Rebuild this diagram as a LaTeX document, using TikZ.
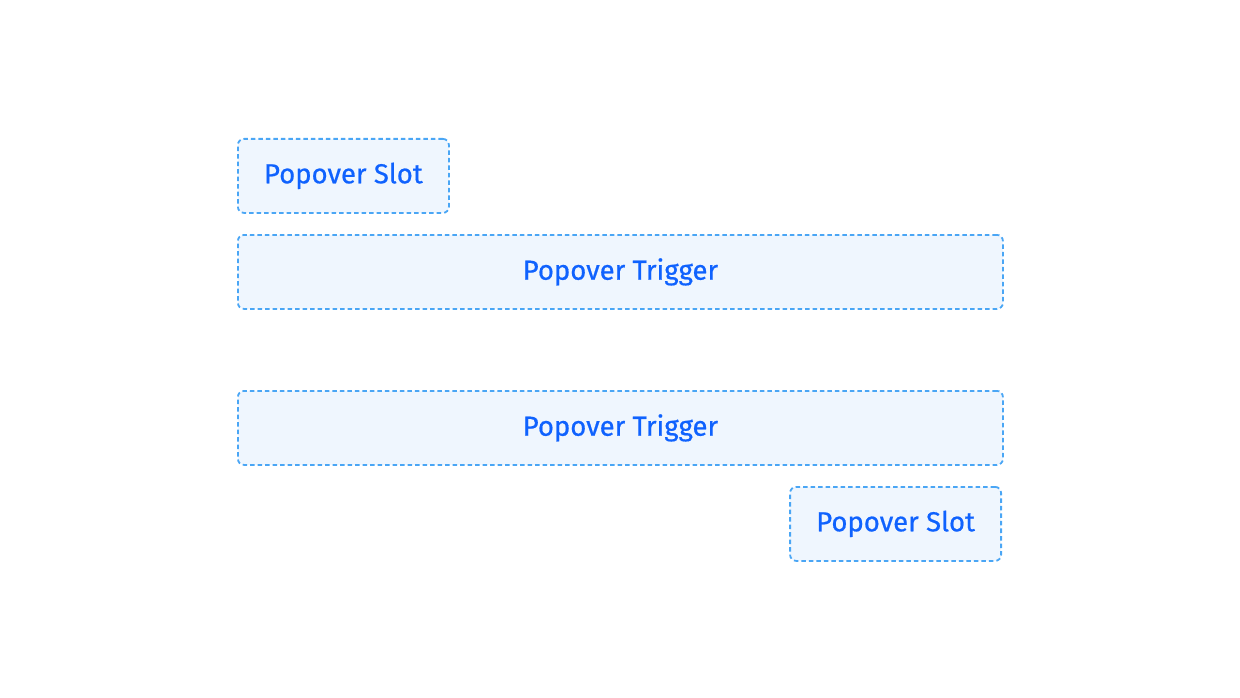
\documentclass[tikz,border=0pt]{standalone}
\usepackage{fontspec}
\setmainfont{Fira Sans}
\newfontfamily\boxfont[FakeBold=0.6]{Fira Sans}
\usetikzlibrary{positioning}
\definecolor{slotline}{HTML}{4AA6F5}
\definecolor{slotfill}{HTML}{EFF6FE}
\definecolor{slottext}{HTML}{0F62FE}

\begin{document}
\begin{tikzpicture}[x=1pt, y=1pt,
	box/.style={draw=slotline, fill=slotfill, line width=1.8pt,
		dash pattern=on 4.5pt off 3pt, rounded corners=6pt,
		minimum height=74pt, inner sep=0pt, text=slottext,
		font=\boxfont\fontsize{27.5}{30}\selectfont},
	wide/.style={box, minimum width=765pt},
	narrow/.style={box, minimum width=211pt}]
	\useasboundingbox (0,0) rectangle (1240,-698);
	
	\node[narrow, anchor=north west] (slottop) at (237,-138) {\raisebox{-1pt}{Popover Slot}};
	\node[wide, anchor=north west] (triggertop) at (237,-234) {\raisebox{-1pt}{Popover Trigger}};
	
	\node[wide, anchor=north west] (triggerbottom) at (237,-390) {\raisebox{-1pt}{Popover Trigger}};
	\node[narrow, anchor=north east] (slotbottom) at (1002,-486) {\raisebox{-1pt}{Popover Slot}};
\end{tikzpicture}
\end{document}
